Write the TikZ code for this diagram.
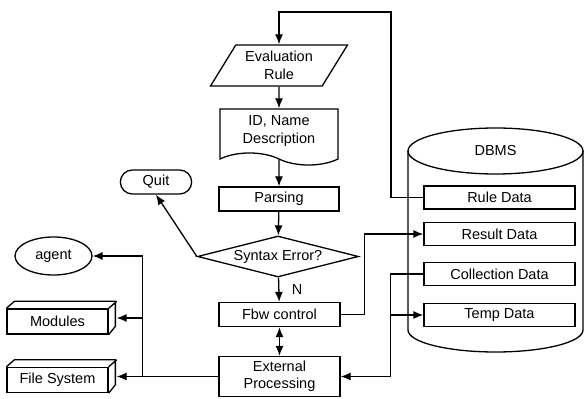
\documentclass[tikz,border=0pt]{standalone}
\usepackage{fontspec}
\setmainfont{Liberation Sans}
\usetikzlibrary{shapes.geometric,shapes.symbols,shapes.misc,arrows.meta,calc}

\begin{document}
\begin{tikzpicture}[x=1pt, y=1pt, line width=1.3pt, >={Latex[length=10pt,width=8pt]},
                    font=\fontsize{14.5}{17.5}\selectfont]
        \tikzstyle{b}  = [rectangle, text centered, draw=black,
                                         minimum width=120pt, minimum height=24pt]
        \tikzstyle{io} = [trapezium, trapezium left angle=54, trapezium right angle=126,
                          trapezium stretches body, draw=black, align=center,
                                         minimum width=137pt, minimum height=41pt]
        \tikzstyle{doc} = [tape, tape bend top=none, tape bend bottom=out and in,
                           tape bend height=12pt, draw=black, align=center,
                                         minimum width=118pt, minimum height=56pt]
        \tikzstyle{db} = [rectangle, text centered, draw=black,
                                         minimum width=151pt, minimum height=23pt]
        \tikzstyle{m}  = [rectangle, text centered, draw=black,
                                         minimum width=101pt, minimum height=25pt]

        \useasboundingbox (0,0) rectangle (584,399);

        % DBMS store
        \draw (408,248) -- (408,69)
              arc[start angle=180, end angle=360, x radius=87.5, y radius=22] -- (583,248);
        \draw (495.5,248) ellipse [x radius=87.5, y radius=23];
        \node(dbms)   at (495.5,248) {DBMS};

        \node(eval)   [io]  at (279,333.5) {Evaluation\\Rule};
        \node(idname) [doc] at (279,268)   {ID, Name\\Description};
        \node(parse)  [b]   at (279,200)   {Parsing};
        \node(syntax) [diamond, draw=black, aspect=4, inner sep=0pt,
                       minimum width=161pt, minimum height=41pt] at (278,142.5) {Syntax Error?};
        \node(fbw)    [b, minimum width=121pt] at (279.5,84.5) {Fbw control};
        \node(ext)    [b, minimum width=121pt, minimum height=40pt, align=center]
                                          at (279.5,22.5) {External\\Processing};

        \node(quit)   [rounded rectangle, draw=black, minimum width=78pt,
                       minimum height=24pt] at (156,217) {Quit};
        \node(agent)  [ellipse, draw=black, inner sep=0pt, minimum width=77pt,
                       minimum height=38pt] at (53.5,143) {agent};
        \node(modules) [m] at (57.5,77.5) {Modules};
        \node(filesys) [m] at (57.5,19)   {File System};
        \foreach \n in {modules,filesys}
            \draw (\n.north west) -- ++(8,7) -- ++(101,0) -- ++(0,-25) -- (\n.south east)
                  (\n.north east) -- ++(8,7);

        \node(rule)   [db] at (499.5,201.5) {Rule Data};
        \node(result) [db] at (499.5,165)   {Result Data};
        \node(coll)   [db] at (499.5,125)   {Collection Data};
        \node(temp)   [db] at (499.5,84)    {Temp Data};

        \coordinate(loop)   at (391,387);
        \coordinate(modface) at ($(modules.east)+(8,3.5)$);
        \coordinate(fsface)  at ($(filesys.east)+(8,3.5)$);
        \coordinate(split)  at ($(ext.west)+(-76,0)$);
        \coordinate(join)   at ($(ext.east)+(50,0)$);

        \draw[->] (rule.west) -| (loop) -| (eval.north);
        \draw[->] (eval) -- (idname);
        \draw[->] (idname) -- (parse);
        \draw[->] (parse) -- (syntax);
        \draw[->] (syntax) -- node[anchor=west, xshift=9pt] {N} (fbw);
        \draw[<->] (fbw) -- (ext);
        \draw[->] (syntax.west) -- (quit.south);

        \draw[->] (ext.west) -- (ext.west -| fsface);
        \draw[->] (split) |- (modface);
        \draw[->] (split) |- (agent.east);

        \draw[->] (fbw.east) -- ++(24,0) |- (result.west);
        \draw[<-] (ext.east) -- (join) |- (coll.west);
        \draw[->] (join) |- (temp.west);
      \end{tikzpicture}
\end{document}
